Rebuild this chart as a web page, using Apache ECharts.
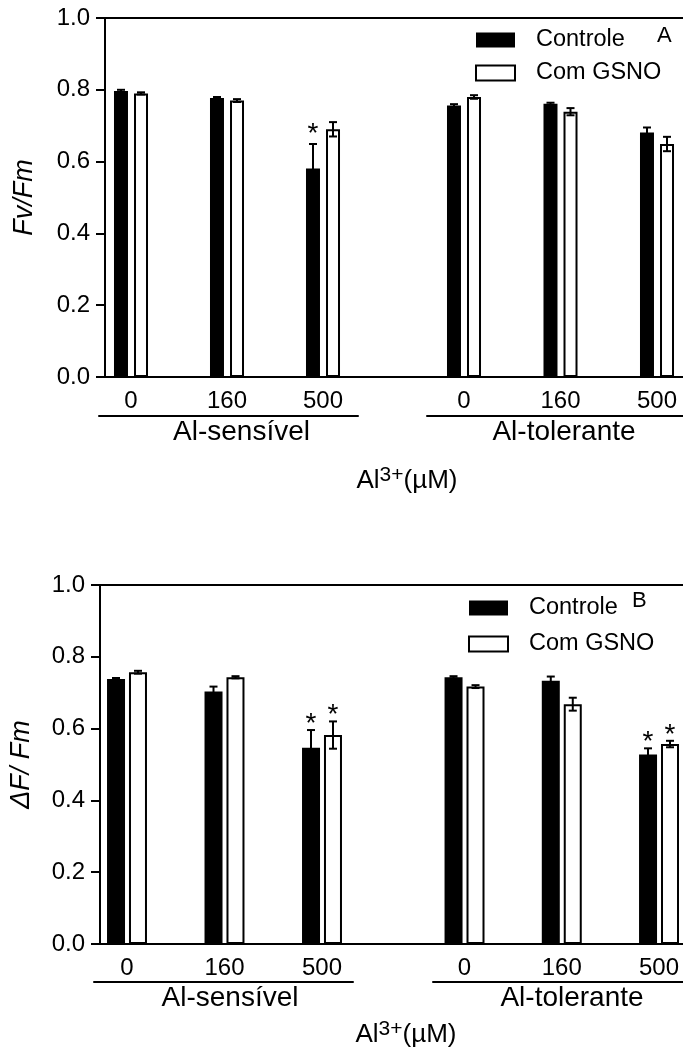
<!DOCTYPE html>
<html lang="pt">
<head>
  <meta charset="UTF-8">
  <title>Fv/Fm e ΔF/Fm</title>
  <script src="https://cdn.jsdelivr.net/npm/echarts@6/dist/echarts.min.js"></script>
  <style>
    html, body { margin: 0; padding: 0; background: #fff; }
    #chartA { width: 683px; height: 527px; }
    #chartB { width: 683px; height: 528px; }
  </style>
</head>
<body>
<div id="chartA"></div>
<div id="chartB"></div>
<script>
  // categorias
  const doses = ['0', '160', '500'];
  const cultivares = ['Al-sensível', 'Al-tolerante'];
  const seriesNames = ['Controle', 'Com GSNO'];

  // A: Fv/Fm (3 primeiros = Al-sensível, 3 últimos = Al-tolerante)
  const fvControle    = [0.797, 0.777, 0.581, 0.756, 0.761, 0.681];
  const fvControleErr = [0.003, 0.003, 0.068, 0.004, 0.003, 0.014];
  const fvControleSig = [0, 0, 1, 0, 0, 0];
  const fvGsno        = [0.790, 0.770, 0.690, 0.780, 0.739, 0.649];
  const fvGsnoErr     = [0.003, 0.004, 0.020, 0.005, 0.010, 0.020];
  const fvGsnoSig     = [0, 0, 0, 0, 0, 0];

  // B: ΔF/Fm
  const dfControle    = [0.738, 0.703, 0.547, 0.743, 0.733, 0.528];
  const dfControleErr = [0.003, 0.014, 0.049, 0.003, 0.012, 0.017];
  const dfControleSig = [0, 0, 1, 0, 0, 1];
  const dfGsno        = [0.757, 0.743, 0.582, 0.717, 0.668, 0.557];
  const dfGsnoErr     = [0.004, 0.003, 0.038, 0.004, 0.018, 0.009];
  const dfGsnoSig     = [0, 0, 1, 0, 0, 1];

  const FONT = 'Liberation Sans, Arial, sans-serif';

  function buildOption(p) {
    const grids = [], xAxes = [], yAxes = [], series = [];
    const h = p.base - p.top;

    // moldura: eixo y + linha de base + borda superior
    grids.push({ left: p.axisX, top: p.top, right: p.frameRight, height: h, show: true,
      borderColor: '#000', borderWidth: 2, outerBoundsMode: 'none' });
    xAxes.push({
      gridIndex: 0, type: 'value', min: 0, max: 1,
      axisLine: { show: false }, axisTick: { show: false }, axisLabel: { show: false }, splitLine: { show: false },
      name: 'Al{sup|3+}(µM)', nameLocation: 'middle', nameGap: p.unitGap, nameMoveOverlap: false,
      nameTextStyle: { fontSize: 26, color: '#000', fontFamily: FONT,
        rich: { sup: { fontSize: 21, verticalAlign: 'bottom', padding: [0, 0, 10, 0], fontFamily: FONT, color: '#000' } } }
    });
    yAxes.push({
      gridIndex: 0, type: 'value', min: 0, max: 1, interval: 0.2,
      axisLine: { show: true, lineStyle: { color: '#000', width: 2 } },
      axisTick: { show: true, length: 9, lineStyle: { color: '#000', width: 2 } },
      axisLabel: { fontSize: 24, color: '#000', margin: 15, fontFamily: FONT, formatter: v => v.toFixed(1) },
      splitLine: { show: false },
      name: p.yName, nameLocation: 'middle', nameGap: p.yNameGap, nameMoveOverlap: false,
      nameTextStyle: { fontSize: 27, fontStyle: 'italic', color: '#000', fontFamily: FONT }
    });

    for (let c = 0; c < 2; c++) {
      const g = p.groups[c];
      const from = c * 3, to = c * 3 + 3;

      // grade das barras
      const gi = grids.length;
      grids.push({ left: g.left, width: g.width, top: p.top, height: h, outerBoundsMode: 'none' });
      xAxes.push({ gridIndex: gi, type: 'category', data: doses,
        axisLine: { show: false }, axisTick: { show: false },
        axisLabel: { fontSize: 24, color: '#000', margin: p.labelMargin, fontFamily: FONT, interval: 0 } });
      yAxes.push({ gridIndex: gi, type: 'value', min: 0, max: 1, show: false });

      // linha sob as doses + nome do genótipo
      const ui = grids.length;
      grids.push({ left: g.lineLeft, width: g.lineWidth, top: p.top, height: p.lineY - p.top, outerBoundsMode: 'none' });
      xAxes.push({ gridIndex: ui, type: 'value', min: 0, max: 1,
        axisLine: { show: true, lineStyle: { color: '#000', width: 2 } },
        axisTick: { show: false }, axisLabel: { show: false }, splitLine: { show: false },
        name: cultivares[c], nameLocation: 'middle', nameGap: p.nameGap, nameMoveOverlap: false,
        nameTextStyle: { fontSize: 28, color: '#000', fontFamily: FONT, padding: [0, 0, 0, g.namePad] } });
      yAxes.push({ gridIndex: ui, type: 'value', min: 0, max: 1, show: false });

      p.data.forEach((s, k) => {
        const vals = s.mean.slice(from, to);
        const errs = s.err.slice(from, to);
        const sig = s.sig.slice(from, to);
        series.push({
          type: 'bar', name: seriesNames[k], xAxisIndex: gi, yAxisIndex: gi, data: vals,
          barWidth: p.barWidth, barGap: p.barGap,
          itemStyle: k === 0 ? { color: '#000' } : { color: '#fff', borderColor: '#000', borderWidth: 2 },
          emphasis: { disabled: true }
        });
        // barras de erro e asteriscos
        const shift = (k === 0 ? -1 : 1) * (p.barWidth + p.gapPx) / 2;
        series.push({
          type: 'custom', xAxisIndex: gi, yAxisIndex: gi, z: 5,
          data: vals.map((v, i) => [i, v, errs[i], sig[i]]),
          renderItem: (params, api) => {
            const i = api.value(0), v = api.value(1), e = api.value(2);
            const hi = api.coord([i, v + e]), lo = api.coord([i, v - e]);
            const x = hi[0] + shift;
            const st = { stroke: '#000', lineWidth: 2 };
            const kids = [
              { type: 'line', shape: { x1: x, y1: hi[1], x2: x, y2: lo[1] }, style: st },
              { type: 'line', shape: { x1: x - 4, y1: hi[1], x2: x + 4, y2: hi[1] }, style: st },
              { type: 'line', shape: { x1: x - 4, y1: lo[1], x2: x + 4, y2: lo[1] }, style: st }
            ];
            if (api.value(3)) {
              kids.push({ type: 'text', x: x, y: hi[1] - p.starGap,
                style: { text: '*', fontSize: 28, fontFamily: FONT, fill: '#000', align: 'center', verticalAlign: 'middle' } });
            }
            return { type: 'group', children: kids };
          }
        });
      });
    }

    return {
      animation: false,
      textStyle: { fontFamily: FONT, color: '#000' },
      title: { text: p.tag, left: p.tagLeft, top: p.tagTop, padding: 0,
        textStyle: { fontSize: 22, fontWeight: 'normal', color: '#000', fontFamily: FONT } },
      legend: {
        data: seriesNames, orient: 'vertical', left: p.legendLeft, top: p.legendTop, padding: 0,
        itemWidth: 39, itemHeight: 15, itemGap: p.legendGap, icon: 'rect', selectedMode: false,
        textStyle: { fontSize: 23.5, color: '#000', fontFamily: FONT, padding: [0, 0, 0, 16] }
      },
      grid: grids, xAxis: xAxes, yAxis: yAxes, series: series
    };
  }

  const chartA = echarts.init(document.getElementById('chartA'));
  chartA.setOption(buildOption({
    axisX: 105, top: 18, base: 377, frameRight: -26,
    groups: [
      { left: 83, width: 288, lineLeft: 99, lineWidth: 259, namePad: 26 },
      { left: 415.75, width: 289.5, lineLeft: 427, lineWidth: 274, namePad: 0 }
    ],
    lineY: 416, labelMargin: 12, nameGap: 2, unitGap: 88,
    yName: 'Fv/Fm', yNameGap: 67,
    barWidth: 14, gapPx: 6, barGap: '43%', starGap: 10,
    legendLeft: 475, legendTop: 28, legendGap: 9,
    tag: 'A', tagLeft: 657, tagTop: 25,
    data: [
      { mean: fvControle, err: fvControleErr, sig: fvControleSig },
      { mean: fvGsno, err: fvGsnoErr, sig: fvGsnoSig }
    ]
  }));

  const chartB = echarts.init(document.getElementById('chartB'));
  chartB.setOption(buildOption({
    axisX: 100, top: 58, base: 417, frameRight: -29,
    groups: [
      { left: 78.25, width: 292.5, lineLeft: 94, lineWidth: 259, namePad: 13 },
      { left: 415.9, width: 291.75, lineLeft: 433, lineWidth: 278, namePad: 0 }
    ],
    lineY: 455, labelMargin: 12, nameGap: 2, unitGap: 75,
    yName: 'ΔF/ Fm', yNameGap: 65,
    barWidth: 18, gapPx: 4, barGap: '22%', starGap: 6,
    legendLeft: 468, legendTop: 69, legendGap: 12,
    tag: 'B', tagLeft: 632, tagTop: 63,
    data: [
      { mean: dfControle, err: dfControleErr, sig: dfControleSig },
      { mean: dfGsno, err: dfGsnoErr, sig: dfGsnoSig }
    ]
  }));
</script>
</body>
</html>
